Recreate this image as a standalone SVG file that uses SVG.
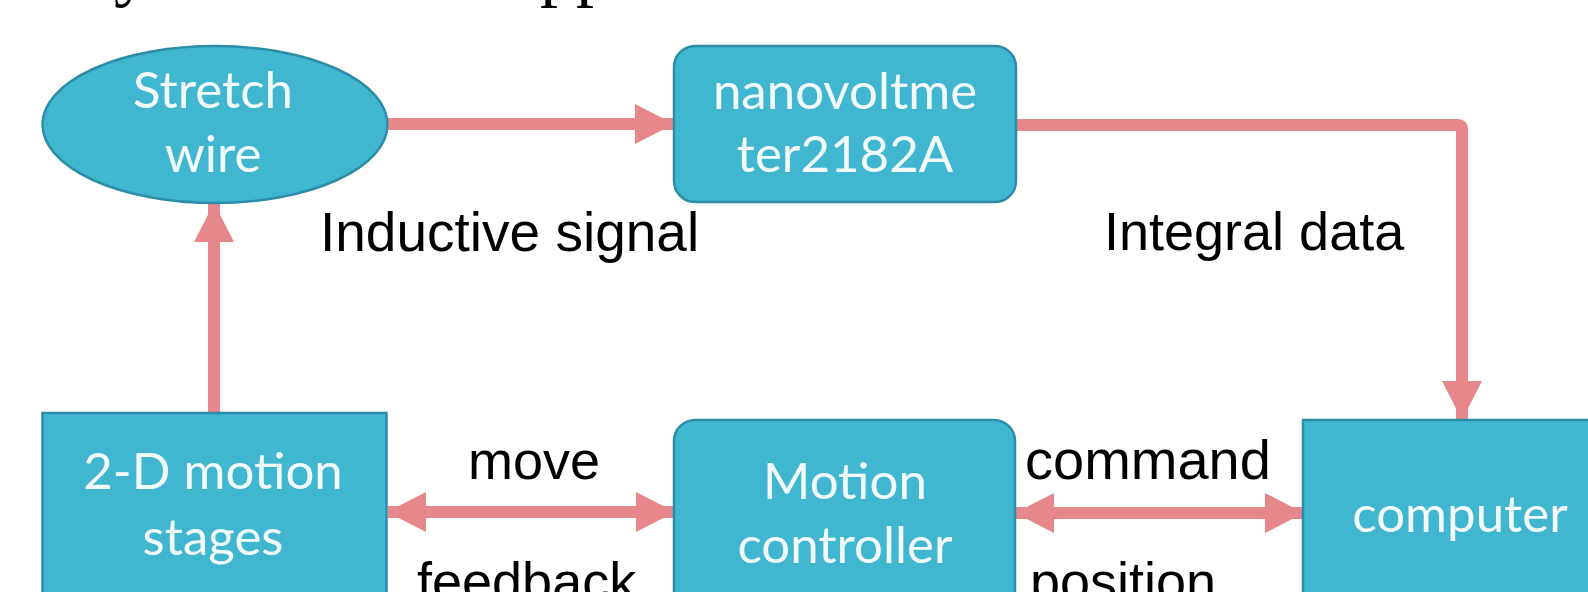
<svg xmlns="http://www.w3.org/2000/svg" width="1588" height="592" viewBox="0 0 1588 592">
  <style>
    .node { fill: #40B6D1; stroke: #2C8EA6; stroke-width: 2.5; }
    .ntext { font-family: Lato, "Open Sans", sans-serif; font-size: 51px; fill: #F2FBFC; text-anchor: middle; }
    .label { font-family: "Liberation Sans", Arial, sans-serif; font-size: 54px; fill: #000000; }
    .caption { font-family: "Liberation Serif", "Times New Roman", serif; font-size: 72px; fill: #000000; }
    .wire { fill: none; stroke: #E5878B; stroke-width: 12; }
  </style>
  <defs>
    <marker id="head" markerUnits="userSpaceOnUse" markerWidth="42" markerHeight="42" refX="38" refY="21" orient="auto-start-reverse" viewBox="0 0 42 42">
      <path d="M0,1 L39,21 L0,41 Z" fill="#E5878B"/>
    </marker>
  </defs>
  <rect width="1588" height="592" fill="#FFFFFF"/>

  <!-- caption line above the chart (only descenders fall inside the frame) -->
  <g id="caption">
    <text class="caption" x="114" y="-7">y</text>
    <text class="caption" x="540" y="-7">pp</text>
  </g>

  <!-- connectors -->
  <g id="connectors">
    <line class="wire" x1="388" y1="124" x2="673" y2="124" marker-end="url(#head)"/>
    <path class="wire" d="M1016,125 H1458 Q1462,125 1462,129 V419" marker-end="url(#head)"/>
    <line class="wire" x1="214" y1="413" x2="214" y2="204" marker-end="url(#head)"/>
    <line class="wire" x1="388" y1="512" x2="674" y2="512" marker-start="url(#head)" marker-end="url(#head)"/>
    <line class="wire" x1="1016" y1="513" x2="1303" y2="513" marker-start="url(#head)" marker-end="url(#head)"/>
  </g>

  <g id="stretch-wire">
    <ellipse class="node" cx="215" cy="124.5" rx="172.5" ry="78.5"/>
    <text class="ntext" x="213" y="108">Stretch</text>
    <text class="ntext" x="213" y="172">wire</text>
  </g>

  <g id="nanovoltmeter">
    <rect class="node" x="674" y="46" width="342" height="156" rx="21"/>
    <text class="ntext" x="845" y="109">nanovoltme</text>
    <text class="ntext" x="845" y="172">ter2182A</text>
  </g>

  <g id="motion-stages">
    <rect class="node" x="42.5" y="413" width="344" height="200"/>
    <text class="ntext" x="213" y="489">2-D motion</text>
    <text class="ntext" x="213" y="555">stages</text>
  </g>

  <g id="motion-controller">
    <rect class="node" x="674" y="420" width="341" height="200" rx="21"/>
    <text class="ntext" x="845" y="499">Motion</text>
    <text class="ntext" x="845" y="563">controller</text>
  </g>

  <g id="computer">
    <rect class="node" x="1303" y="420" width="300" height="200"/>
    <text class="ntext" x="1460" y="532">computer</text>
  </g>

  <g id="labels">
    <text class="label" x="320" y="251" style="font-size:55px">Inductive signal</text>
    <text class="label" x="1104" y="250">Integral data</text>
    <text class="label" x="468" y="479">move</text>
    <text class="label" x="417" y="600">feedback</text>
    <text class="label" x="1025" y="479" style="font-size:56px">command</text>
    <text class="label" x="1030" y="600">position</text>
  </g>
</svg>
